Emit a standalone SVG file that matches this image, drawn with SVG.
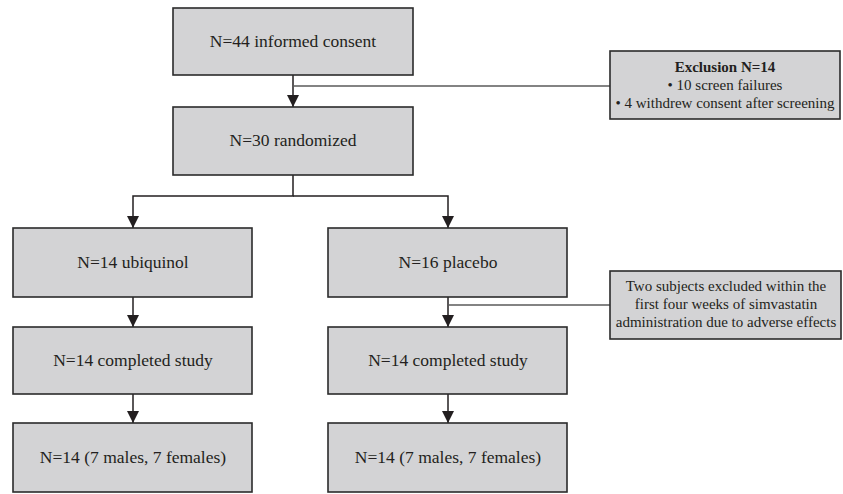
<svg xmlns="http://www.w3.org/2000/svg" width="843" height="494" viewBox="0 0 843 494">
<defs>
<style>
.box{fill:#d3d3d5;stroke:#2b2b2b;stroke-width:1.6}
.t{font-family:"Liberation Serif","Times New Roman",serif;font-size:17.5px;fill:#231f20;text-anchor:middle}
.s{font-family:"Liberation Serif","Times New Roman",serif;font-size:15px;fill:#231f20;text-anchor:middle}
.b{font-weight:bold}
.ln{fill:none;stroke:#231f20;stroke-width:1.5}
.gl{fill:none;stroke:#5a5a5a;stroke-width:1.5}
</style>
<marker id="ah" viewBox="0 0 12 12" refX="12" refY="6" markerWidth="12" markerHeight="12" markerUnits="userSpaceOnUse" orient="auto">
<path d="M0,0 L12,6 L0,12 Z" fill="#231f20"/>
</marker>
</defs>
<rect width="843" height="494" fill="#ffffff"/>
<g id="connectors">
<path class="ln" d="M293,75 V107" marker-end="url(#ah)"/>
<path class="gl" d="M293,86 H610"/>
<path class="ln" d="M293,175 V196 H133 V228" marker-end="url(#ah)"/>
<path class="ln" d="M293,196 H448 V228" marker-end="url(#ah)"/>
<path class="ln" d="M133,297 V327" marker-end="url(#ah)"/>
<path class="ln" d="M448,297 V327" marker-end="url(#ah)"/>
<path class="gl" d="M448,305 H610"/>
<path class="ln" d="M133,394 V423" marker-end="url(#ah)"/>
<path class="ln" d="M448,394 V423" marker-end="url(#ah)"/>
</g>
<g id="consent">
<rect class="box" x="173" y="8" width="240" height="67"/>
<text class="t" x="293" y="47">N=44 informed consent</text>
</g>
<g id="exclusion">
<rect class="box" x="610" y="51" width="230" height="68"/>
<text class="s b" x="725" y="72">Exclusion N=14</text>
<text class="s" x="725" y="90">• 10 screen failures</text>
<text class="s" x="725" y="108">• 4 withdrew consent after screening</text>
</g>
<g id="randomized">
<rect class="box" x="173" y="107" width="240" height="68"/>
<text class="t" x="293" y="146">N=30 randomized</text>
</g>
<g id="ubiquinol">
<rect class="box" x="13" y="228" width="239" height="69"/>
<text class="t" x="133" y="268">N=14 ubiquinol</text>
</g>
<g id="placebo">
<rect class="box" x="328" y="228" width="239" height="69"/>
<text class="t" x="448" y="268">N=16 placebo</text>
</g>
<g id="note">
<rect class="box" x="610" y="271" width="231" height="68"/>
<text class="s" x="726" y="291">Two subjects excluded within the</text>
<text class="s" x="726" y="309">first four weeks of simvastatin</text>
<text class="s" x="726" y="327">administration due to adverse effects</text>
</g>
<g id="completed-left">
<rect class="box" x="13" y="327" width="239" height="67"/>
<text class="t" x="133" y="366">N=14 completed study</text>
</g>
<g id="completed-right">
<rect class="box" x="328" y="327" width="239" height="67"/>
<text class="t" x="448" y="366">N=14 completed study</text>
</g>
<g id="final-left">
<rect class="box" x="13" y="423" width="239" height="69"/>
<text class="t" x="133" y="463">N=14 (7 males, 7 females)</text>
</g>
<g id="final-right">
<rect class="box" x="328" y="423" width="239" height="69"/>
<text class="t" x="448" y="463">N=14 (7 males, 7 females)</text>
</g>
</svg>
